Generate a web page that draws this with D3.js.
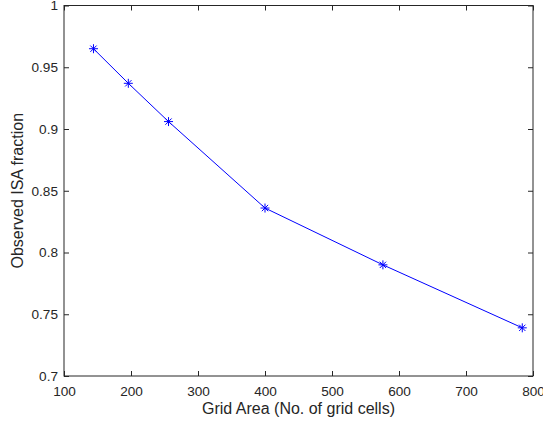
<!DOCTYPE html>
<html>
<head>
<meta charset="utf-8">
<script src="https://cdn.jsdelivr.net/npm/d3@7"></script>
<style>
  body { margin: 0; background: #fff; }
  text { font-family: "Liberation Sans", Arial, sans-serif; fill: #262626; }
</style>
</head>
<body>
<svg id="chart" width="543" height="424"></svg>
<script>
const gridArea = [144, 196, 256, 400, 576, 784]
const isaFraction = [0.965, 0.937, 0.906, 0.836, 0.790, 0.739]
const xTicks = [100, 200, 300, 400, 500, 600, 700, 800]
const yTicks = [0.7, 0.75, 0.8, 0.85, 0.9, 0.95, 1]

const plotLeft = 64, plotRight = 533, plotTop = 5.5, plotBottom = 376
const axisColor = "#262626"
const tickFont = "13.6px"
const titleFont = "16px"
const svg = d3.select("#chart")

const x = d3.scaleLinear().domain([100, 800]).range([plotLeft, plotRight])
const y = d3.scaleLinear().domain([0.7, 1]).range([plotBottom, plotTop])

// frame
svg.append("rect")
  .attr("x", plotLeft).attr("y", plotTop)
  .attr("width", plotRight - plotLeft).attr("height", plotBottom - plotTop)
  .attr("fill", "none").attr("stroke", axisColor).attr("stroke-width", 1)

// ticks inward on all four sides
function tickAxis(axis, tx, ty) {
  const g = svg.append("g").attr("transform", `translate(${tx},${ty})`).call(axis)
  g.select(".domain").remove()
  g.attr("font-family", null).attr("font-size", null)
  g.selectAll(".tick line").attr("stroke", axisColor)
  g.selectAll(".tick text").attr("fill", axisColor).style("font-size", tickFont)
  return g
}

tickAxis(d3.axisBottom(x).tickValues(xTicks).tickSize(-5).tickPadding(10.5), 0, plotBottom)
tickAxis(d3.axisTop(x).tickValues(xTicks).tickSize(-5).tickFormat(""), 0, plotTop)
tickAxis(d3.axisLeft(y).tickValues(yTicks).tickSize(-5).tickPadding(6).tickFormat(d3.format("~g")), plotLeft, 0)
tickAxis(d3.axisRight(y).tickValues(yTicks).tickSize(-5).tickFormat(""), plotRight, 0)

// line
const pts = gridArea.map((d, i) => [d, isaFraction[i]])
svg.append("path")
  .datum(pts)
  .attr("fill", "none")
  .attr("stroke", "#0000ff")
  .attr("stroke-width", 1)
  .attr("d", d3.line().x(d => x(d[0])).y(d => y(d[1])))

// asterisk markers
const star = svg.append("g").selectAll("g").data(pts).join("g")
  .attr("transform", d => `translate(${x(d[0])},${y(d[1])})`)
const r = 4.5
star.append("path")
  .attr("d", `M${-r},0L${r},0M0,${-r}L0,${r}M${-r*0.7},${-r*0.7}L${r*0.7},${r*0.7}M${-r*0.7},${r*0.7}L${r*0.7},${-r*0.7}`)
  .attr("stroke", "#0000ff").attr("stroke-width", 1).attr("fill", "none")

// axis titles
svg.append("text")
  .attr("x", (plotLeft + plotRight) / 2).attr("y", 414)
  .attr("text-anchor", "middle").style("font-size", titleFont)
  .text("Grid Area (No. of grid cells)")

svg.append("text")
  .attr("transform", `translate(23,${(plotTop + plotBottom) / 2}) rotate(-90)`)
  .attr("text-anchor", "middle").style("font-size", titleFont)
  .text("Observed ISA fraction")
</script>
</body>
</html>
